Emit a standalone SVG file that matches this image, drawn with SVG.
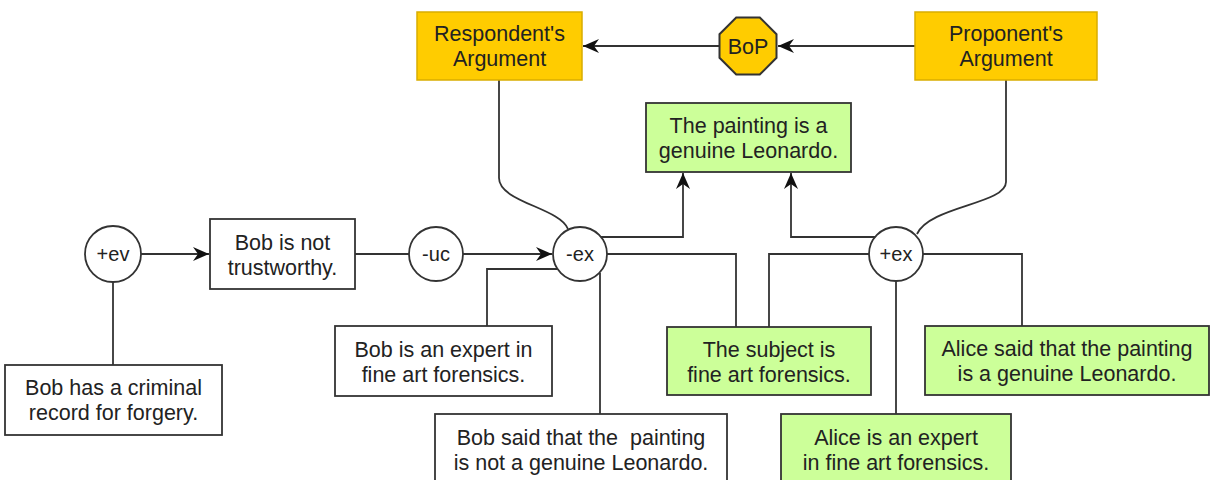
<svg xmlns="http://www.w3.org/2000/svg" width="1212" height="480" viewBox="0 0 1212 480">
<style>
text{font-family:"Liberation Sans",Arial,sans-serif;font-size:21.5px;fill:#222;text-anchor:middle}
.c text{font-size:20px}
.w{fill:#fff;stroke:#333;stroke-width:1.8}
.g{fill:#ccff99;stroke:#333;stroke-width:1.8}
.y{fill:#ffcc00;stroke:#d9ad00;stroke-width:1.5}
.o{fill:#ffcc00;stroke:#333;stroke-width:2}
.c circle{fill:#fff;stroke:#333;stroke-width:1.8}
#connectors path{fill:none;stroke:#333;stroke-width:1.8}
</style>
<defs>
<marker id="arr" markerUnits="userSpaceOnUse" markerWidth="18" markerHeight="14" refX="16" refY="7" orient="auto">
<path d="M0,0 L16,7 L0,14 L5,7 z" fill="#111"/>
</marker>
</defs>
<g id="connectors">
<path d="M720,46 H583" marker-end="url(#arr)"/>
<path d="M915,46 H778" marker-end="url(#arr)"/>
<path d="M499,80 V178 C499,202 560,208 568,229"/>
<path d="M1006,80 V182 C1006,204 930,206 917,234"/>
<path d="M601,237 H683 V173" marker-end="url(#arr)"/>
<path d="M875,237 H791 V173" marker-end="url(#arr)"/>
<path d="M141,254 H209" marker-end="url(#arr)"/>
<path d="M355,254 H409"/>
<path d="M463,254 H552" marker-end="url(#arr)"/>
<path d="M113,282 V365"/>
<path d="M487,326 V269 H557"/>
<path d="M600,414 V273"/>
<path d="M607,254 H736 V327"/>
<path d="M869,254 H769 V327"/>
<path d="M896,414 V281"/>
<path d="M923,254 H1022 V326"/>
</g>
<g id="respondent">
<rect class="y" x="417" y="12" width="165" height="68"/>
<text x="499.5" y="41">Respondent's</text>
<text x="499.5" y="66">Argument</text>
</g>
<g id="proponent">
<rect class="y" x="915" y="12" width="182" height="68"/>
<text x="1006" y="41">Proponent's</text>
<text x="1006" y="66">Argument</text>
</g>
<g id="bop">
<polygon class="o" points="736.2,17.5 759.8,17.5 776.5,34.2 776.5,57.8 759.8,74.5 736.2,74.5 719.5,57.8 719.5,34.2"/>
<text x="748" y="53.5">BoP</text>
</g>
<g id="painting">
<rect class="g" x="646" y="103" width="205" height="69"/>
<text x="748.5" y="133">The painting is a</text>
<text x="748.5" y="158">genuine Leonardo.</text>
</g>
<g id="ev" class="c">
<circle cx="113" cy="254" r="28"/>
<text x="113" y="261">+ev</text>
</g>
<g id="uc" class="c">
<circle cx="436" cy="254" r="27"/>
<text x="436" y="261">-uc</text>
</g>
<g id="mex" class="c">
<circle cx="580" cy="254" r="27"/>
<text x="580" y="261">-ex</text>
</g>
<g id="pex" class="c">
<circle cx="896" cy="254" r="27"/>
<text x="896" y="261">+ex</text>
</g>
<g id="trust">
<rect class="w" x="210" y="219" width="145" height="70"/>
<text x="282.5" y="249.5">Bob is not</text>
<text x="282.5" y="274.5">trustworthy.</text>
</g>
<g id="criminal">
<rect class="w" x="5" y="365" width="217" height="70"/>
<text x="113.5" y="395">Bob has a criminal</text>
<text x="113.5" y="420">record for forgery.</text>
</g>
<g id="bobexpert">
<rect class="w" x="335" y="326" width="217" height="70"/>
<text x="443.5" y="356.5">Bob is an expert in</text>
<text x="443.5" y="381.5">fine art forensics.</text>
</g>
<g id="bobsaid">
<rect class="w" x="435" y="414" width="292" height="72"/>
<text x="581" y="445" xml:space="preserve">Bob said that the  painting</text>
<text x="581" y="470">is not a genuine Leonardo.</text>
</g>
<g id="subject">
<rect class="g" x="667" y="327" width="204" height="68"/>
<text x="769" y="356.5">The subject is</text>
<text x="769" y="381.5">fine art forensics.</text>
</g>
<g id="aliceexpert">
<rect class="g" x="781" y="414" width="230" height="72"/>
<text x="896" y="445">Alice is an expert</text>
<text x="896" y="470">in fine art forensics.</text>
</g>
<g id="alicesaid">
<rect class="g" x="925" y="326" width="284" height="69"/>
<text x="1067" y="356">Alice said that the painting</text>
<text x="1067" y="381">is a genuine Leonardo.</text>
</g>
</svg>
